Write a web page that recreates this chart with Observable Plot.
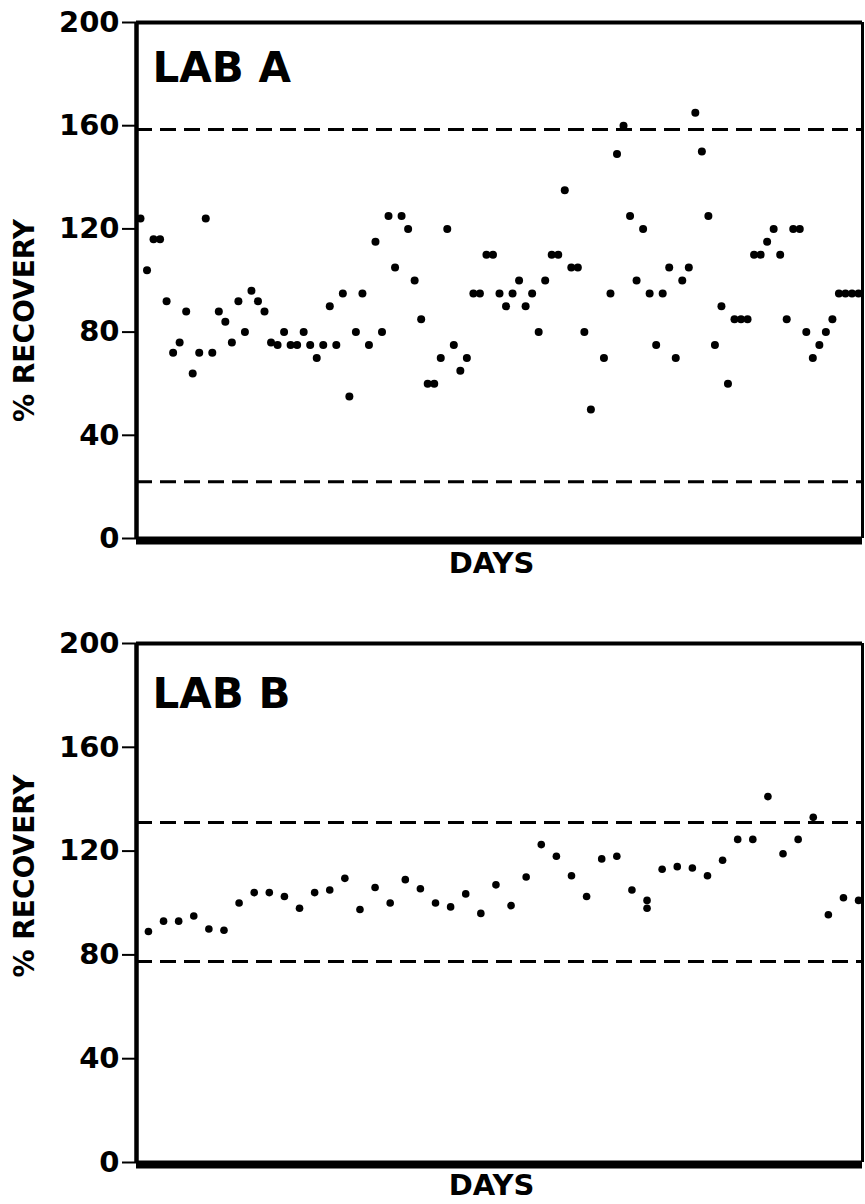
<!DOCTYPE html>
<html><head><meta charset="utf-8">
<script src="https://cdn.jsdelivr.net/npm/d3@7"></script>
<script src="https://cdn.jsdelivr.net/npm/@observablehq/plot@0.6"></script>
<style>
body{margin:0;background:#fff;}
#chart svg{display:block}
g[aria-label="y-title"] text{letter-spacing:6px}
g[aria-label="x-title"] text{letter-spacing:4px}
</style></head><body><div id="chart"></div>
<script>
// ---- data ----
const yTicks = [0, 40, 80, 120, 160, 200];

const labADays = [0,1,2,3,4,5,6,7,8,9,10,11,12,13,14,15,16,17,18,19,20,21,22,23,24,25,26,27,28,29,30,31,32,33,34,35,36,37,38,39,40,41,42,43,44,45,46,47,48,49,50,51,52,53,54,55,56,57,58,59,60,61,62,63,64,65,66,67,68,69,71,72,73,74,75,76,77,78,79,80,81,82,83,84,85,86,87,88,89,90,91,92,93,94,95,96,97,98,99,100,101,102,103,104,105,106,107,108,109,110];
const labAValues = [124,104,116,116,92,72,76,88,64,72,124,72,88,84,76,92,80,96,92,88,76,75,80,75,75,80,75,70,75,90,75,95,55,80,95,75,115,80,125,105,125,120,100,85,60,60,70,120,75,65,70,95,95,110,110,95,90,95,100,90,95,80,100,110,110,135,105,105,80,50,70,95,149,160,125,100,120,95,75,95,105,70,100,105,165,150,125,75,90,60,85,85,85,110,110,115,120,110,85,120,120,80,70,75,80,85,95,95,95,95];
const labALimits = [158.5, 22];

const labBDays = [0,1,2,3,4,5,6,7,8,9,10,11,12,13,14,15,16,17,18,19,20,21,22,23,24,25,26,27,28,29,30,31,32,33,33,34,35,36,37,38,39,40,41,42,43,44,45,46,47];
const labBValues = [89,93,93,95,90,89.5,100,104,104,102.5,98,104,105,109.5,97.5,106,100,109,105.5,100,98.5,103.5,96,107,99,110,122.5,118,110.5,102.5,117,118,105,101,98,113,114,113.5,110.5,116.5,124.5,124.5,141,119,124.5,133,95.5,102,101];
const labBLimits = [131, 77.5];

const titles = ["LAB A", "LAB B"];
const yTitle = "% RECOVERY";
const xTitle = "DAYS";

// ---- chart ----
function panel({days, values, limits, title, height, marginTop, marginBottom, xDomain, yTitleDy, xTitleDy, titleDy, dotR}) {
  const data = days.map((d, i) => ({day: d, value: values[i]}));
  return Plot.plot({
    width: 865, height, marginTop, marginBottom, marginLeft: 136, marginRight: 3,
    style: {fontFamily: "'DejaVu Sans', sans-serif", fontWeight: "bold", fontSize: "29px", color: "#000", background: "#fff"},
    x: {domain: xDomain, axis: null},
    y: {domain: [0, 200], axis: null, label: null},
    marks: [
      Plot.ruleY(limits, {stroke: "#000", strokeWidth: 3, strokeDasharray: "16,8"}),
      Plot.ruleY([200], {stroke: "#000", strokeWidth: 4}),
      Plot.ruleX([xDomain[1]], {stroke: "#000", strokeWidth: 3}),
      Plot.ruleX([xDomain[0]], {stroke: "#000", strokeWidth: 4.5}),
      Plot.ruleY([0], {stroke: "#000", strokeWidth: 8, dy: 2}),
      Plot.axisY({ticks: yTicks, tickSize: 14, tickPadding: 3, strokeWidth: 2, fontSize: 29, fontWeight: "bold", label: null}),
      Plot.dot(data, {x: "day", y: "value", r: dotR, fill: "#000", stroke: "none"}),
      Plot.text([title], {frameAnchor: "top-left", dx: 16, dy: titleDy, fontSize: 42, fontWeight: "bold", textAnchor: "start", lineAnchor: "top"}),
      Plot.text([yTitle], {frameAnchor: "left", dx: -111, dy: yTitleDy, rotate: -90, fontSize: 28, fontWeight: "bold", textAnchor: "middle", lineAnchor: "middle", ariaLabel: "y-title"}),
      Plot.text([xTitle], {frameAnchor: "bottom", dx: -8, dy: xTitleDy, fontSize: 29, fontWeight: "bold", textAnchor: "middle", lineAnchor: "middle", ariaLabel: "x-title"})
    ]
  });
}

const chartA = panel({days: labADays, values: labAValues, limits: labALimits, title: titles[0],
  height: 600, marginTop: 22, marginBottom: 62, xDomain: [-0.61, 110.61], yTitleDy: 40, xTitleDy: 25, titleDy: 30, dotR: 4});
const chartB = panel({days: labBDays, values: labBValues, limits: labBLimits, title: titles[1],
  height: 604, marginTop: 43, marginBottom: 42, xDomain: [-0.79, 47.26], yTitleDy: -27, xTitleDy: 23, titleDy: 35, dotR: 3.8});

document.getElementById("chart").append(chartA, chartB);
</script></body></html>
